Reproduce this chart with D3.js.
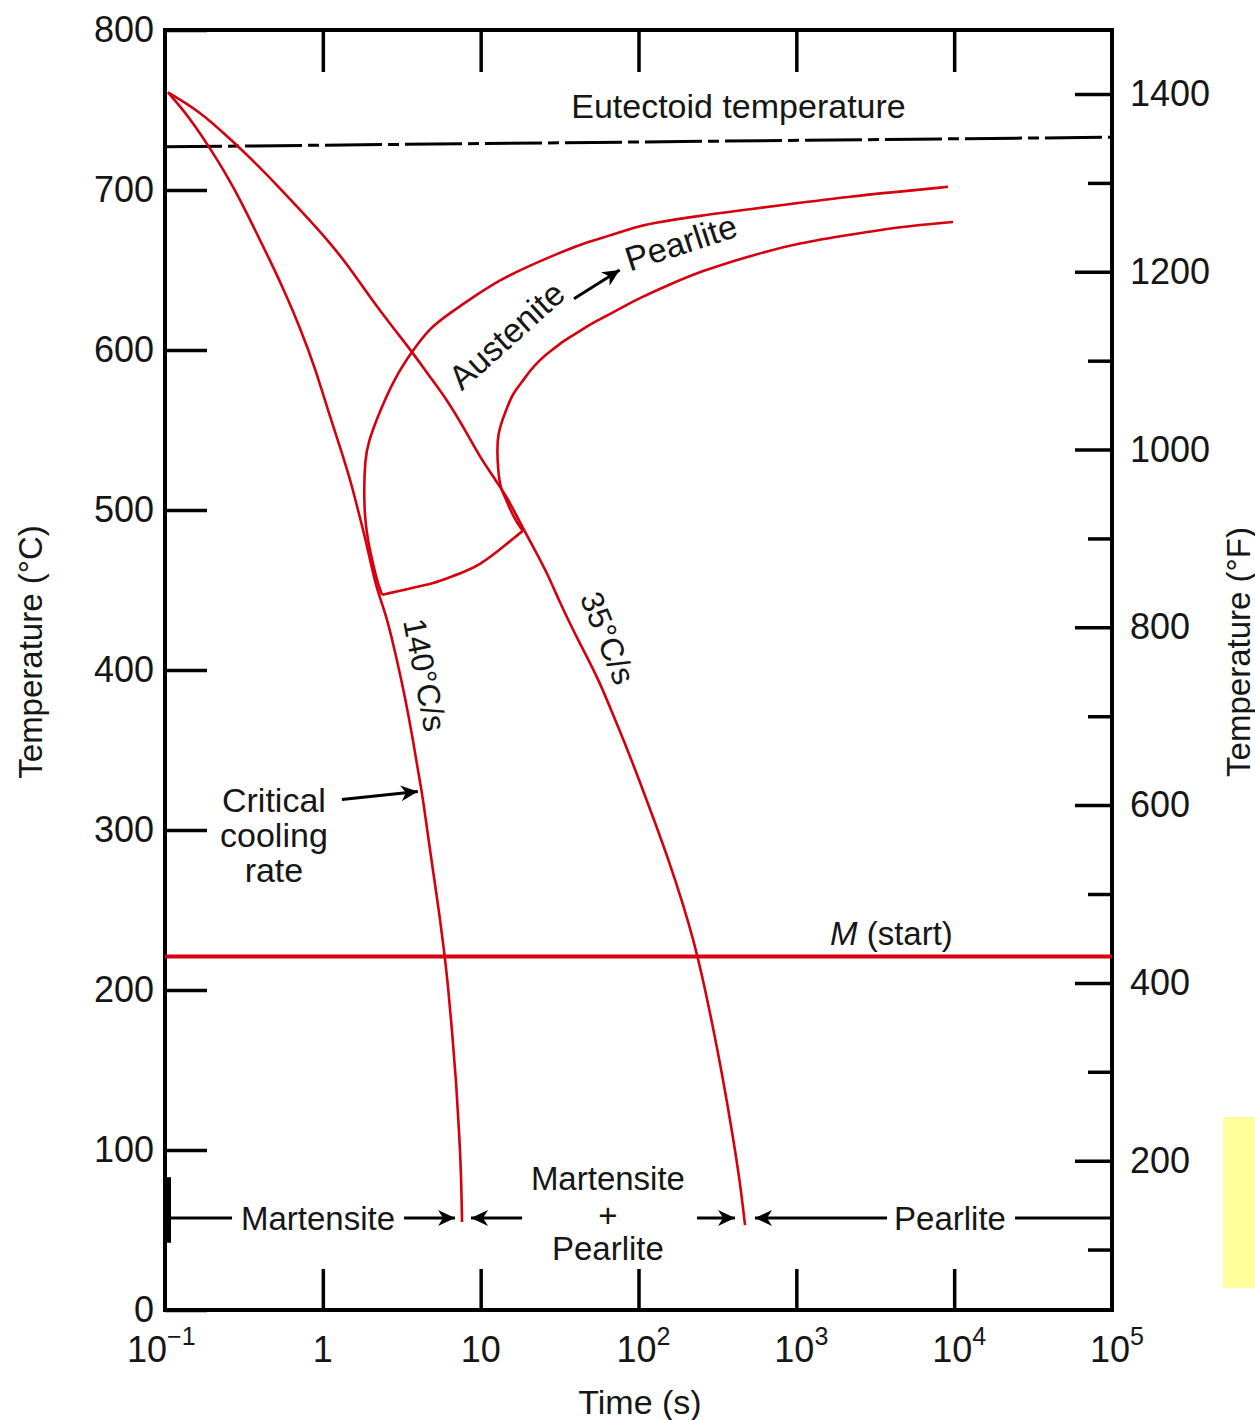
<!DOCTYPE html>
<html lang="en">
  <head>
    <meta charset="utf-8">
    <title>Continuous cooling transformation diagram</title>
    <script type="text/javascript" src="https://cdn.jsdelivr.net/npm/d3@7/dist/d3.min.js"></script>
    <style>
      body { margin: 0; background: #fff; }
      svg text { font-family: "Liberation Sans", Arial, sans-serif; fill: #161616; }
    </style>
  </head>
  <body>
    <script type="text/javascript">
    // axis ticks and labels
    var timeTicks = [0.1, 1, 10, 100, 1000, 10000, 100000];
    var timeBase = ["10", "1", "10", "10", "10", "10", "10"];
    var timeExp = ["\u22121", "", "", "2", "3", "4", "5"];
    var celsiusTicks = [0, 100, 200, 300, 400, 500, 600, 700, 800];
    var fahrenheitMajor = [200, 400, 600, 800, 1000, 1200, 1400];
    var fahrenheitMinor = [100, 300, 500, 700, 900, 1100, 1300];

    // reference lines (time s, temperature C)
    var eutectoid = [[0.1, 727], [100000, 733]];
    var msTemp = 221;

    // cooling curves: [time (s), temperature (C)]
    var rate140 = [[0.1045, 761], [0.128, 751], [0.155, 740], [0.193, 726], [0.24, 711],
      [0.299, 694], [0.372, 675], [0.463, 656], [0.576, 636], [0.717, 614], [0.892, 589],
      [1.08, 562], [1.32, 536], [1.51, 517], [1.65, 502], [1.85, 483], [1.99, 469],
      [2.2, 450], [2.55, 433], [2.95, 406], [3.32, 383], [3.73, 356], [4.01, 337],
      [4.27, 322], [4.57, 301], [4.85, 283], [5.21, 262], [5.53, 244], [5.86, 225],
      [6.21, 203], [6.58, 175], [6.98, 144], [7.29, 112], [7.51, 87], [7.62, 55]];
    var rate35 = [[0.1045, 761], [0.167, 749], [0.258, 732], [0.383, 716], [0.559, 699],
      [0.829, 681], [1.11, 667], [1.49, 651], [1.99, 633], [2.78, 614], [3.67, 599],
      [4.78, 583], [6.12, 569], [8.19, 548], [9.9, 533], [12.0, 521], [14.7, 508],
      [17.8, 492], [21.5, 477], [26.3, 461], [31.8, 442], [38.5, 425], [47.2, 408],
      [57.0, 392], [69.0, 372], [84.6, 351], [102, 330], [127, 305], [158, 279],
      [191, 254], [222, 232], [253, 209], [292, 180], [338, 148], [391, 112],
      [440, 80], [473, 53]];

    // transformation curves
    var pearliteStart = [[9141, 702], [4539, 699], [2189, 696], [1055, 692], [509, 688],
      [245, 684], [118, 679], [97.9, 677], [63.2, 671], [42.6, 666], [28.7, 659],
      [19.7, 652], [13.3, 644], [8.94, 633], [6.39, 623], [4.78, 614], [3.67, 599],
      [2.87, 583], [2.3, 562], [1.93, 542], [1.85, 531], [1.82, 511], [1.85, 494],
      [1.93, 481], [2.05, 469], [2.2, 456], [2.37, 447]];
    var reactionStop = [[2.37, 447], [2.95, 449], [3.95, 452], [4.99, 454], [6.39, 458],
      [8.19, 462], [9.9, 466], [12.0, 472], [13.9, 477], [16.0, 482], [18.5, 487]];
    var pearliteFinish = [[18.5, 487], [17.0, 492], [15.4, 500], [14.3, 508], [13.3, 514],
      [12.9, 525], [12.7, 537], [12.9, 548], [13.7, 556], [14.7, 564], [16.0, 573],
      [18.3, 580], [20.5, 587], [23.8, 594], [27.5, 599], [31.8, 604], [36.8, 608],
      [42.6, 612], [51.5, 617], [63.2, 621.5], [79.8, 627], [102, 632.5], [158, 641],
      [245, 649], [509, 659], [1055, 667], [2189, 672], [4539, 677], [9833, 680]];

    var w = 1255;
    var h = 1420;
    var plotLeft = 165, plotRight = 1112, plotTop = 30, plotBottom = 1310;
    var red = "#d5000f";

    var svg = d3.select("body")
                .append("svg")
                .attr("width", w)
                .attr("height", h);

    var xScale = d3.scaleLog().domain([0.1, 100000]).range([plotLeft, plotRight]);
    var yScale = d3.scaleLinear().domain([0, 800]).range([plotBottom, plotTop]);
    // fahrenheit scale lined up with the celsius one
    var fScale = d3.scaleLinear().domain([32, 1472]).range([plotBottom, plotTop]);

    // yellow patch at the right edge
    svg.append("rect")
       .attr("x", 1223).attr("y", 1117)
       .attr("width", 32).attr("height", 171)
       .attr("fill", "#ffff9c");

    var styleAxis = function(g) {
      g.select(".domain").remove();
      g.selectAll(".tick line").attr("stroke", "#000").attr("stroke-width", 3.5);
      g.selectAll(".tick text")
       .attr("font-size", 36)
       .attr("font-family", "Liberation Sans, Arial, sans-serif")
       .attr("fill", "#161616");
    };

    // inward ticks
    svg.append("g").attr("transform", "translate(0," + plotBottom + ")")
       .call(d3.axisBottom(xScale).tickValues(timeTicks.slice(1, 6)).tickSize(-41).tickFormat(""))
       .call(styleAxis);
    svg.append("g").attr("transform", "translate(0," + plotTop + ")")
       .call(d3.axisTop(xScale).tickValues(timeTicks.slice(1, 6)).tickSize(-42).tickFormat(""))
       .call(styleAxis);
    svg.append("g").attr("transform", "translate(" + plotLeft + ",0)")
       .call(d3.axisLeft(yScale).tickValues(celsiusTicks).tickSize(-42).tickPadding(11).tickFormat(d3.format("d")))
       .call(styleAxis);
    svg.append("g").attr("transform", "translate(" + plotRight + ",0)")
       .call(d3.axisRight(fScale).tickValues(fahrenheitMajor).tickSize(-37).tickPadding(18).tickFormat(d3.format("d")))
       .call(styleAxis);
    svg.append("g").attr("transform", "translate(" + plotRight + ",0)")
       .call(d3.axisRight(fScale).tickValues(fahrenheitMinor).tickSize(-24).tickFormat(""))
       .call(styleAxis);

    // frame
    svg.append("rect")
       .attr("x", plotLeft).attr("y", plotTop)
       .attr("width", plotRight - plotLeft).attr("height", plotBottom - plotTop)
       .attr("fill", "none")
       .attr("stroke", "#000")
       .attr("stroke-width", 4);

    // time labels with superscripts
    var xl = svg.selectAll(".xlab")
       .data(timeTicks)
       .enter()
       .append("text")
       .attr("class", "xlab")
       .attr("y", 1362)
       .attr("font-size", 36)
       .attr("x", function(d, i) {
         if (timeExp[i] === "") return xScale(d);
         return xScale(d) - (i === 0 ? 38 : 22);
       })
       .attr("text-anchor", function(d, i) { return timeExp[i] === "" ? "middle" : "start"; });
    xl.append("tspan").text(function(d, i) { return timeBase[i]; });
    xl.append("tspan")
      .attr("font-size", 25)
      .attr("dy", -17)
      .text(function(d, i) { return timeExp[i]; });

    // axis titles
    svg.append("text")
       .attr("x", 640).attr("y", 1414)
       .attr("text-anchor", "middle")
       .attr("font-size", 34)
       .text("Time (s)");
    svg.append("text")
       .attr("transform", "translate(42,652) rotate(-90)")
       .attr("text-anchor", "middle")
       .attr("font-size", 33)
       .text("Temperature (\u00b0C)");
    svg.append("text")
       .attr("transform", "translate(1250,652) rotate(-90)")
       .attr("text-anchor", "middle")
       .attr("font-size", 33)
       .text("Temperature (\u00b0F)");

    var line = d3.line()
                 .x(function(d) { return xScale(d[0]); })
                 .y(function(d) { return yScale(d[1]); })
                 .curve(d3.curveBasis);

    // eutectoid temperature (dash-dot)
    svg.append("path")
       .attr("d", d3.line().x(function(d) { return xScale(d[0]); }).y(function(d) { return yScale(d[1]); })(eutectoid))
       .attr("fill", "none")
       .attr("stroke", "#000")
       .attr("stroke-width", 3)
       .attr("stroke-dasharray", "57,6,11,6");
    svg.append("text")
       .attr("x", xScale(430)).attr("y", yScale(745))
       .attr("text-anchor", "middle")
       .attr("font-size", 34)
       .text("Eutectoid temperature");

    // martensite start
    svg.append("line")
       .attr("x1", xScale(0.1)).attr("x2", xScale(100000))
       .attr("y1", yScale(msTemp)).attr("y2", yScale(msTemp))
       .attr("stroke", red)
       .attr("stroke-width", 4);
    var ms = svg.append("text")
       .attr("x", xScale(1635)).attr("y", yScale(228))
       .attr("font-size", 33);
    ms.append("tspan").attr("font-style", "italic").text("M");
    ms.append("tspan").text(" (start)");

    // curves
    [rate140, rate35, pearliteStart, reactionStop, pearliteFinish].forEach(function(c) {
      svg.append("path")
         .attr("d", line(c))
         .attr("fill", "none")
         .attr("stroke", red)
         .attr("stroke-width", 2.6);
    });

    // arrow: line plus filled head at (x2, y2)
    var arrow = function(x1, y1, x2, y2) {
      var a = Math.atan2(y2 - y1, x2 - x1) * 180 / Math.PI;
      svg.append("line")
         .attr("x1", x1).attr("y1", y1).attr("x2", x2).attr("y2", y2)
         .attr("stroke", "#000").attr("stroke-width", 3);
      svg.append("path")
         .attr("d", "M0,0 L-17,-8 L-12,0 L-17,8 Z")
         .attr("transform", "translate(" + x2 + "," + y2 + ") rotate(" + a + ")")
         .attr("fill", "#000");
    };

    // Austenite -> Pearlite
    svg.append("text")
       .attr("transform", "translate(" + xScale(7.6) + "," + yScale(574) + ") rotate(-42)")
       .attr("font-size", 34)
       .text("Austenite");
    arrow(xScale(39), yScale(632), xScale(76), yScale(650));
    svg.append("text")
       .attr("transform", "translate(" + xScale(88) + "," + yScale(649) + ") rotate(-18)")
       .attr("font-size", 34)
       .text("Pearlite");

    // rate labels
    svg.append("text")
       .attr("transform", "translate(" + xScale(4.44) + "," + yScale(397) + ") rotate(79)")
       .attr("text-anchor", "middle")
       .attr("dy", "0.35em")
       .attr("font-size", 32)
       .text("140\u00b0C/s");
    svg.append("text")
       .attr("transform", "translate(" + xScale(64) + "," + yScale(420) + ") rotate(68)")
       .attr("text-anchor", "middle")
       .attr("dy", "0.35em")
       .attr("font-size", 32)
       .text("35\u00b0C/s");

    // critical cooling rate
    var crit = svg.append("text")
       .attr("x", xScale(0.49)).attr("y", yScale(311))
       .attr("text-anchor", "middle")
       .attr("font-size", 34);
    ["Critical", "cooling", "rate"].forEach(function(s, i) {
      crit.append("tspan").attr("x", xScale(0.49)).attr("dy", i === 0 ? 0 : 35).text(s);
    });
    arrow(xScale(1.32), yScale(319), xScale(4.0), yScale(324));

    // bottom region labels
    var yb = yScale(57.5);
    var xa = xScale(rate140[rate140.length - 1][0]);
    var xb = xScale(rate35[rate35.length - 1][0]);
    svg.append("line")
       .attr("x1", xScale(0.1) + 3).attr("x2", xScale(0.1) + 3)
       .attr("y1", yScale(83)).attr("y2", yScale(42))
       .attr("stroke", "#000").attr("stroke-width", 6);
    var seg = function(t1, t2) {
      svg.append("line")
         .attr("x1", xScale(t1)).attr("x2", xScale(t2))
         .attr("y1", yb).attr("y2", yb)
         .attr("stroke", "#000").attr("stroke-width", 3);
    };
    seg(0.1, 0.266);
    arrow(xScale(3.27), yb, xa - 7, yb);
    arrow(xScale(18.3), yb, xa + 9, yb);
    arrow(xScale(235), yb, xb - 10, yb);
    arrow(xScale(3754), yb, xb + 10, yb);
    seg(24300, 100000);

    var blab = function(t, T, s) {
      svg.append("text")
         .attr("x", xScale(t)).attr("y", yScale(T))
         .attr("text-anchor", "middle")
         .attr("font-size", 33)
         .text(s);
    };
    blab(0.932, 50, "Martensite");
    blab(64, 75, "Martensite");
    blab(64, 52, "+");
    blab(64, 31, "Pearlite");
    blab(9413, 50, "Pearlite");

    </script>
  </body>
</html>
